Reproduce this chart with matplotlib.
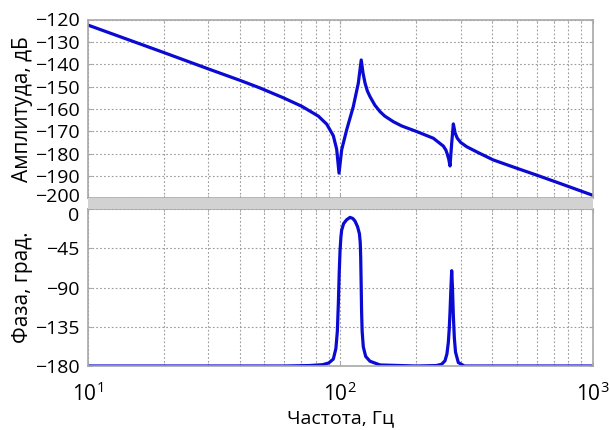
import matplotlib
matplotlib.use("Agg")
import matplotlib.pyplot as plt
from matplotlib.patches import Rectangle
from matplotlib.transforms import ScaledTranslation

# ---- data ----
mag_freq = [10, 20, 30, 40, 48, 59.4, 70.3, 81.8, 88.3, 93.8, 96.7, 98.8,
            101.2, 105.9, 112.5, 117.8, 121.0, 123.0, 125.3, 128.0, 131.1,
            137.0, 143.6, 150.0, 162.2, 175.0, 200.7, 233.6, 255.9, 262.0,
            265.5, 269.0, 272.0, 276.2, 280.4, 285.0, 290.7, 300.0, 316.8,
            350.0, 403.6, 499.8, 600, 742, 1000]
mag_db = [-122.5, -134.8, -142.1, -147.2, -150.6, -155.0, -158.8, -163.2,
          -166.8, -172.0, -178.0, -188.7, -178.3, -169.4, -159.0, -148.5,
          -138.1, -144.0, -148.5, -152.0, -154.5, -158.3, -161.2, -163.2,
          -165.7, -167.6, -170.1, -173.1, -176.6, -178.4, -180.3, -182.6,
          -185.5, -175.3, -166.7, -170.8, -173.1, -175.0, -176.9, -179.4,
          -182.8, -186.5, -189.6, -193.3, -198.6]

ph_freq = [10, 60, 75, 85, 90, 93.8, 96.0, 97.3, 98.2, 99.0, 99.7, 100.5,
           101.2, 103.0, 105.9, 109.2, 112.0, 114.3, 117.0, 119.0, 119.9,
           120.4, 120.9, 121.4, 122.0, 123.3, 126.0, 131, 143.6, 200, 240,
           252, 259.8, 264.5, 267.8, 270.0, 272, 274.5, 276.2, 278.0, 280.4,
           283.0, 286.0, 293.4, 310, 1000]
ph_deg = [-180, -180, -179.5, -178.5, -176.5, -172.0, -160.0, -140.0, -108.0,
          -72.0, -48.0, -32.0, -24.0, -16.5, -12.0, -9.3, -10.5, -13.5,
          -20.0, -28.0, -38.0, -55.0, -85.0, -118.0, -140.0, -158.0, -169.0,
          -174.5, -178.8, -180, -179.5, -178.0, -174.0, -166.0, -153.0,
          -138.0, -118.0, -88.0, -70.5, -88.0, -122.0, -148.0, -164.0, -176.0,
          -180, -180]

mag_ticks = [-120, -130, -140, -150, -160, -170, -180, -190, -200]
ph_ticks = [0, -45, -90, -135, -180]
x_ticks = [10, 100, 1000]
x_ticklabels = ['$\\mathregular{10^{1}}$', '$\\mathregular{10^{2}}$', '$\\mathregular{10^{3}}$']

mag_label = 'Амплитуда, дБ'
ph_label = 'Фаза, град.'
x_label = 'Частота, Гц'

# ---- style ----
plt.rcParams['font.family'] = ['Open Sans', 'DejaVu Sans']
plt.rcParams['mathtext.fontset'] = 'custom'
plt.rcParams['mathtext.rm'] = 'Open Sans'
LINE = '#0a0ad2'
SPINE = '#a8a8a8'
GRID = '#9a9a9a'

fig = plt.figure(figsize=(6.09, 4.30), dpi=100)
W, H = 609, 430
L, R = 88 / W, 592.7 / W
ax1 = fig.add_axes([L, 1 - 198.4 / H, R - L, (198.4 - 19.5) / H])
ax2 = fig.add_axes([L, 1 - 366 / H, R - L, (366 - 209.3) / H])

# gray separator band
fig.patches.append(Rectangle((L, 1 - 209.3 / H), R - L, (209.3 - 198.4) / H,
                             transform=fig.transFigure, facecolor='#d2d2d2',
                             edgecolor='none', zorder=0))

for ax in (ax1, ax2):
    ax.set_xscale('log')
    ax.set_xlim(10, 1000)
    for s in ax.spines.values():
        s.set_color(SPINE)
        s.set_linewidth(1.2)
    ax.grid(True, which='both', axis='x', linestyle=(0, (1.5, 2)), color=GRID, linewidth=0.8)
    ax.grid(True, which='major', axis='y', linestyle=(0, (1.5, 2)), color=GRID, linewidth=0.8)
    ax.tick_params(which='both', direction='in', top=True, right=True,
                   color=SPINE, length=3, labelsize=14, pad=6)
    ax.tick_params(which='minor', length=2)
    ax.set_axisbelow(True)

ax1.plot(mag_freq, mag_db, color=LINE, linewidth=2.3, solid_joinstyle='round')
ax1.set_ylim(-200, -120)
ax1.set_yticks(mag_ticks)
ax1.set_xticks(x_ticks)
ax1.tick_params(axis='x', which='both', labelbottom=False)
ax1.set_ylabel(mag_label, fontsize=15)

ax2.plot(ph_freq, ph_deg, color=LINE, linewidth=2.3, solid_joinstyle='round')
ax2.set_ylim(-180, 0)
ax2.set_yticks(ph_ticks)
ax2.set_xticks(x_ticks)
ax2.set_xticklabels(x_ticklabels)
ax2.tick_params(axis='x', which='major', labelsize=15, pad=12)
ax2.set_ylabel(ph_label, fontsize=15)
ax2.set_xlabel(x_label, fontsize=14, labelpad=2)

ax1.yaxis.set_label_coords(-0.108, 0.5)
ax2.yaxis.set_label_coords(-0.108, 0.5)

# nudge the two labels at the junction apart
for lab in ax1.get_yticklabels():
    if lab.get_text() in ('−200', '-200'):
        lab.set_transform(lab.get_transform() + ScaledTranslation(0, 3 / 100, fig.dpi_scale_trans))
for lab in ax2.get_yticklabels():
    if lab.get_text() == '0':
        lab.set_transform(lab.get_transform() + ScaledTranslation(0, -5 / 100, fig.dpi_scale_trans))

fig.savefig('out.png', dpi=100)
